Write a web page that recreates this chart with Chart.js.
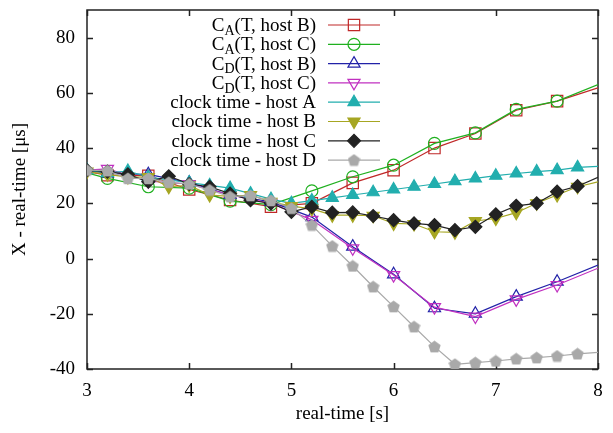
<!DOCTYPE html>
<html>
<head>
<meta charset="utf-8">
<title>Clock offsets</title>
<script src="https://cdn.jsdelivr.net/npm/chart.js@4.4.0/dist/chart.umd.min.js"></script>
<style>
    body { margin: 0; background: #ffffff; }
</style>
</head>
<body>
<canvas id="offsetChart" width="613" height="433"></canvas>
<script>
'use strict';

// real-time of each sample [s]
var clockTimes = [3.0, 3.2, 3.4, 3.6, 3.8, 4.0, 4.2, 4.4, 4.6, 4.8, 5.0, 5.2, 5.4,
    5.6, 5.8, 6.0, 6.2, 6.4, 6.6, 6.8, 7.0, 7.2, 7.4, 7.6, 7.8, 8.0];
var estTimes = [3.0, 3.2, 3.6, 4.0, 4.4, 4.8, 5.2, 5.6, 6.0, 6.4, 6.8, 7.2, 7.6, 8.0];

// X - real-time [us]
var caHostB = [31.5, 30.2, 30, 25, 21.2, 18.8, 20, 27.4, 32, 40, 45.3, 53.7, 57, 61.8];
var caHostC = [31, 29, 26, 25.5, 20.8, 19.5, 24.5, 29.6, 33.8, 41.7, 45.5, 54, 57, 63];
var cdHostB = [32, 30.8, 30.5, 27.5, 23, 20.5, 15, 4.3, -5.7, -18, -20, -13.8, -8.4, -2.4];
var cdHostC = [32, 32.5, 28, 27, 23, 20, 14, 3.7, -6, -17.6, -21, -14.8, -9.6, -3.5];

var clockHostA = [32, 31, 31.7, 29.5, 28.5, 27.5, 26.5, 25.5, 23.5, 21.5, 20, 21, 22,
    23, 24, 25, 26, 27, 28, 29, 30, 30.8, 31.5, 32, 33, 33.4];
var clockHostB = [31.5, 30.5, 29.5, 29.5, 26, 26.5, 23, 22.5, 23, 20.5, 19, 18, 15.7,
    15.7, 15.5, 12.7, 12.5, 9.7, 9.5, 13.6, 14.5, 16.6, 20, 23, 26, 27.8];
var clockHostC = [32, 31.5, 30.5, 27.8, 29.8, 27, 26, 23.5, 21.1, 20, 16.9, 18.7, 16.6,
    16.7, 15.4, 13.9, 12.7, 12.1, 10.3, 11.5, 16, 19.1, 20, 24.2, 26.2, 29.4];
var clockHostD = [32, 31.8, 29, 29, 27.6, 27, 24.8, 22.4, 22.8, 21, 18.2, 12.1, 4.5,
    -2.7, -10.2, -17.4, -24.7, -31.9, -38.3, -37.7, -37.1, -36.3, -35.9, -35.3, -34.5, -34];

var seriesLabels = ['C_A(T, host B)', 'C_A(T, host C)', 'C_D(T, host B)', 'C_D(T, host C)',
    'clock time - host A', 'clock time - host B', 'clock time - host C', 'clock time - host D'];

var xTicks = [3, 4, 5, 6, 7, 8];
var yTicks = [-40, -20, 0, 20, 40, 60, 80];

var SERIF = "'Liberation Serif', 'DejaVu Serif', serif";
var FONT_SIZE = 19;

function toPoints(times, values) {
    var pts = [];
    for (var i = 0; i < times.length; i++) {
        pts.push({x: times[i], y: values[i]});
    }
    return pts;
}

// filled pentagon used as point style for host D
function makePentagon(size, color) {
    var c = document.createElement('canvas');
    c.width = size;
    c.height = size;
    var g = c.getContext('2d');
    var r = size / 2;
    g.beginPath();
    for (var i = 0; i < 5; i++) {
        var a = -Math.PI / 2 + i * 2 * Math.PI / 5;
        var px = r + Math.cos(a) * r;
        var py = r + 0.5 + Math.sin(a) * r;
        if (i === 0) {
            g.moveTo(px, py);
        } else {
            g.lineTo(px, py);
        }
    }
    g.closePath();
    g.fillStyle = color;
    g.fill();
    return c;
}

// no marker on the last sample; estimate curves also skip the first one
function markerRadius(size, skipFirst) {
    return function (ctx) {
        var n = ctx.dataset.data.length;
        if (ctx.dataIndex === n - 1) {
            return 0;
        }
        if (skipFirst && ctx.dataIndex === 0) {
            return 0;
        }
        return size;
    };
}

function makeDataset(label, times, values, color, style, size, filled, rotation, skipFirst, order) {
    return {
        label: label,
        data: toPoints(times, values),
        borderColor: color,
        backgroundColor: filled ? color : 'rgba(0,0,0,0)',
        borderWidth: 1.2,
        pointStyle: style,
        pointRotation: rotation,
        pointRadius: markerRadius(size, skipFirst),
        pointBorderWidth: 1.2,
        pointBorderColor: color,
        pointBackgroundColor: filled ? color : 'rgba(0,0,0,0)',
        tension: 0,
        order: order
    };
}

var pentagon = makePentagon(13, '#a9a9a9');

var datasets = [
    makeDataset(seriesLabels[0], estTimes, caHostB, '#c02828', 'rect', 8, false, 0, true, 7),
    makeDataset(seriesLabels[1], estTimes, caHostC, '#1fb01f', 'circle', 6, false, 0, true, 6),
    makeDataset(seriesLabels[2], estTimes, cdHostB, '#2222a8', 'triangle', 7, false, 0, true, 5),
    makeDataset(seriesLabels[3], estTimes, cdHostC, '#c030c0', 'triangle', 7, false, 180, true, 4),
    makeDataset(seriesLabels[4], clockTimes, clockHostA, '#22aeae', 'triangle', 7, true, 0, false, 3),
    makeDataset(seriesLabels[5], clockTimes, clockHostB, '#a6a622', 'triangle', 7, true, 180, false, 2),
    makeDataset(seriesLabels[6], clockTimes, clockHostC, '#222222', 'rectRot', 6.5, true, 0, false, 1),
    makeDataset(seriesLabels[7], clockTimes, clockHostD, '#a9a9a9', pentagon, 6.5, true, 0, false, 0)
];

// box around the plot with inward ticks on all four sides
var frameTicks = {
    id: 'frameTicks',
    beforeDatasetsDraw: function (chart) {
        var ctx = chart.ctx;
        var area = chart.chartArea;
        var xs = chart.scales.x;
        var ys = chart.scales.y;
        var len = 6;
        ctx.save();
        ctx.strokeStyle = '#222222';
        ctx.lineWidth = 1.5;
        ctx.beginPath();
        for (var i = 0; i < xTicks.length; i++) {
            var px = Math.round(xs.getPixelForValue(xTicks[i])) + 0.5;
            ctx.moveTo(px, area.bottom);
            ctx.lineTo(px, area.bottom - len);
            ctx.moveTo(px, area.top);
            ctx.lineTo(px, area.top + len);
        }
        for (var j = 0; j < yTicks.length; j++) {
            var py = Math.round(ys.getPixelForValue(yTicks[j])) + 0.5;
            ctx.moveTo(area.left, py);
            ctx.lineTo(area.left + len, py);
            ctx.moveTo(area.right, py);
            ctx.lineTo(area.right - len, py);
        }
        ctx.stroke();
        ctx.strokeRect(area.left, area.top, area.right - area.left, area.bottom - area.top);
        ctx.restore();
    }
};

// key in the upper part of the plot, labels right aligned, C_A style subscripts
var serifKey = {
    id: 'serifKey',
    afterDatasetsDraw: function (chart) {
        var ctx = chart.ctx;
        var textRight = 316;
        var lineLeft = 328;
        var lineRight = 380;
        var markX = 354;
        var rowY = 25;
        var rowStep = 19.3;
        var mainFont = FONT_SIZE + 'px ' + SERIF;
        var subFont = (FONT_SIZE - 5) + 'px ' + SERIF;

        ctx.save();
        ctx.textBaseline = 'middle';
        ctx.textAlign = 'left';
        for (var i = 0; i < datasets.length; i++) {
            var ds = datasets[i];
            var y = rowY + i * rowStep;
            var label = ds.label;
            var parts = label.match(/^(.*?)_(\w)(.*)$/);
            var head = parts ? parts[1] : label;
            var sub = parts ? parts[2] : '';
            var tail = parts ? parts[3] : '';

            ctx.font = mainFont;
            var wHead = ctx.measureText(head).width;
            var wTail = ctx.measureText(tail).width;
            ctx.font = subFont;
            var wSub = sub ? ctx.measureText(sub).width : 0;
            var x = textRight - wHead - wSub - wTail;

            ctx.fillStyle = '#000000';
            ctx.font = mainFont;
            ctx.fillText(head, x, y + 1);
            if (sub) {
                ctx.font = subFont;
                ctx.fillText(sub, x + wHead, y + 6);
                ctx.font = mainFont;
                ctx.fillText(tail, x + wHead + wSub, y + 1);
            }

            ctx.strokeStyle = ds.borderColor;
            ctx.lineWidth = ds.borderWidth;
            ctx.beginPath();
            ctx.moveTo(lineLeft, y);
            ctx.lineTo(lineRight, y);
            ctx.stroke();

            ctx.fillStyle = ds.pointBackgroundColor;
            ctx.strokeStyle = ds.pointBorderColor;
            ctx.lineWidth = ds.pointBorderWidth;
            Chart.helpers.drawPoint(ctx, {
                pointStyle: ds.pointStyle,
                rotation: ds.pointRotation,
                radius: ds.pointRadius({dataIndex: 1, dataset: ds}),
                borderWidth: ds.pointBorderWidth
            }, markX, y);
        }
        ctx.restore();
    }
};

var ctx = document.getElementById('offsetChart').getContext('2d');

var offsetChart = new Chart(ctx, {
    type: 'line',
    data: {datasets: datasets},
    options: {
        responsive: false,
        animation: false,
        devicePixelRatio: 1,
        layout: {padding: {left: 0, top: 10, right: 15, bottom: 0}},
        plugins: {
            legend: {display: false},
            tooltip: {enabled: false}
        },
        scales: {
            x: {
                type: 'linear',
                min: 3,
                max: 8,
                grid: {display: false, drawTicks: false},
                border: {display: false},
                ticks: {
                    stepSize: 1,
                    maxRotation: 0,
                    padding: 11,
                    color: '#000000',
                    font: {family: SERIF, size: FONT_SIZE}
                },
                title: {
                    display: true,
                    text: 'real-time [s]',
                    color: '#000000',
                    font: {family: SERIF, size: FONT_SIZE},
                    padding: {top: 0, bottom: 8}
                },
                afterFit: function (scale) {
                    scale.height = 64;
                    scale.paddingLeft = 0;
                    scale.paddingRight = 0;
                }
            },
            y: {
                type: 'linear',
                min: -40,
                max: 90,
                grid: {display: false, drawTicks: false},
                border: {display: false},
                ticks: {
                    stepSize: 20,
                    includeBounds: false,
                    padding: 12,
                    color: '#000000',
                    font: {family: SERIF, size: FONT_SIZE}
                },
                title: {
                    display: true,
                    text: 'X - real-time [μs]',
                    color: '#000000',
                    font: {family: SERIF, size: FONT_SIZE},
                    padding: {top: 9, bottom: 0}
                },
                afterFit: function (scale) {
                    scale.width = 87;
                    scale.paddingTop = 0;
                    scale.paddingBottom = 0;
                }
            }
        }
    },
    plugins: [frameTicks, serifKey]
});
</script>
</body>
</html>
